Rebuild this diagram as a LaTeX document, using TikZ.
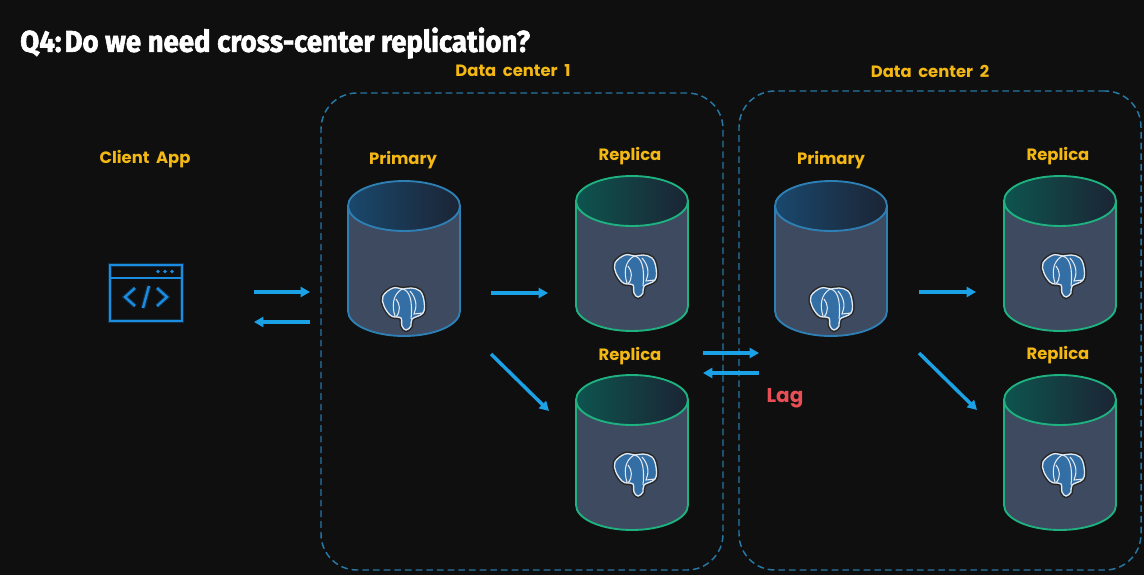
\documentclass[tikz,border=0pt]{standalone}
\usepackage{fontspec}
\usepackage{tikz}
\usetikzlibrary{arrows.meta,positioning,shapes.geometric}
\setmainfont[WordSpace=1.9]{Poppins}
\newfontfamily\titlefont[BoldFeatures={FakeBold=2.2}]{Fira Sans}
\definecolor{bgblack}{RGB}{15,15,15}
\definecolor{flowblue}{RGB}{27,161,230}
\definecolor{dcdash}{RGB}{38,120,165}
\definecolor{labelyellow}{RGB}{244,184,20}
\definecolor{lagred}{RGB}{232,78,84}
\definecolor{dbbody}{RGB}{62,74,96}
\definecolor{dbtopend}{RGB}{27,36,52}
\definecolor{priedge}{RGB}{46,128,180}
\definecolor{pritop}{RGB}{26,72,108}
\definecolor{repedge}{RGB}{30,178,128}
\definecolor{reptop}{RGB}{14,84,78}
\definecolor{pgblue}{RGB}{51,110,165}
\definecolor{iconblue}{RGB}{26,140,226}
\newcommand{\elephantpath}{plot[smooth cycle,tension=.65] coordinates {(-10,-21) (-20,-13) (-19,-3) (-13,6) (-8,8) (-2,9) (-1,17) (3,21) (8,17) (9,10) (20,4) (21,-8) (17,-18) (8,-21) (0,-20)}}
\begin{document}
\begin{tikzpicture}[
    x=.75pt, y=-.75pt,
    label/.style={text=labelyellow, font=\fontsize{12.3}{14}\selectfont\bfseries, inner sep=0pt},
    flow/.style={-{Triangle[length=7pt,width=7.5pt]}, line width=2.6pt, color=flowblue},
    dcbox/.style={rectangle, rounded corners=27pt, draw=dcdash, line width=1.1pt,
                  dash pattern=on 5pt off 3pt, inner sep=0pt},
    icon/.style={draw=iconblue, line width=1.6pt},
    iconglow/.style={draw=iconblue, opacity=.25, line width=3.4pt},
    pics/dbcyl/.style n args={2}{code={
      \fill[dbbody] (-56,0) -- (-56,105) arc[start angle=180,end angle=0,x radius=56,y radius=25] -- (56,0) -- cycle;
      \draw[#1, line width=1.4pt] (-56,0) -- (-56,105) arc[start angle=180,end angle=0,x radius=56,y radius=25] -- (56,0);
      \draw[#1, line width=1.4pt, left color=#2, right color=dbtopend] (0,0) ellipse[x radius=56,y radius=25];
    }},
    pics/pgsql/.style={code={
      \draw[black!85, line width=3.2pt, fill=black!85] \elephantpath;
      \draw[white!85!pgblue, line width=1pt, fill=pgblue] \elephantpath;
      \draw[white!85!pgblue, line width=.8pt] (-8,7) .. controls (-11,-2) and (-11,-14) .. (-1,-20)
        .. controls (6,-19) and (10,-10) .. (8,10)
        (-7,-10) .. controls (-3,-5) and (-2,2) .. (-7,8)
        (7,-18) .. controls (14,-10) and (14,-2) .. (11,5) -- (20,4);
    }}
  ]
    \fill[bgblack] (0,0) rectangle (1144,575);
    \useasboundingbox (0,0) rectangle (1144,575);

    \node[anchor=west, text=white, inner sep=0pt, xscale=.92, font=\titlefont\fontsize{22.5}{24}\selectfont\bfseries] (title) at (20,43) {Q4:\kern2.5pt Do we need cross-center replication?};

    \node[dcbox, minimum width=301.5pt, minimum height=357.75pt] (dc1) at (522,331.5) {};
    \node[dcbox, minimum width=301.5pt, minimum height=359.25pt] (dc2) at (940,330.5) {};
    \node[label] (dc1label) at (513,71) {Data center 1};
    \node[label] (dc2label) at (930,71) {Data center 2};

    \node[label] (clientlabel) at (145,159) {Client App};
    \node[label] (pri1label) at (403,160) {Primary};
    \node[label] (rep1label) at (630,156) {Replica};
    \node[label] (rep2label) at (630,356) {Replica};
    \node[label] (pri2label) at (831,160) {Primary};
    \node[label] (rep3label) at (1058,156) {Replica};
    \node[label] (rep4label) at (1058,355) {Replica};
    \node[text=lagred, inner sep=0pt, font=\fontsize{15}{17}\selectfont\bfseries] (lag) at (785,398) {Lag};

    % client window
    \draw[iconglow] (110,265) rectangle (182,321);
    \draw[icon] (110,265) rectangle (182,321);
    \draw[icon] (110,278) -- (182,278);
    \fill[iconblue] (158,271.5) circle (1.8) (165,271.5) circle (1.8) (172,271.5) circle (1.8);
    \draw[iconglow] (135,288) -- (125,297) -- (135,306) (157,288) -- (167,297) -- (157,306) (149,286) -- (143,308);
    \draw[icon, line width=1.8pt] (135,288) -- (125,297) -- (135,306);
    \draw[icon, line width=1.8pt] (157,288) -- (167,297) -- (157,306);
    \draw[icon, line width=1.8pt] (149,286) -- (143,308);

    % databases
    \pic at (404,206) {dbcyl={priedge}{pritop}};
    \pic at (632,201) {dbcyl={repedge}{reptop}};
    \pic at (632,400) {dbcyl={repedge}{reptop}};
    \pic at (831,206) {dbcyl={priedge}{pritop}};
    \pic at (1060,201) {dbcyl={repedge}{reptop}};
    \pic at (1060,400) {dbcyl={repedge}{reptop}};
    \pic at (403,309) {pgsql};
    \pic at (635,276) {pgsql};
    \pic at (635,475) {pgsql};
    \pic at (831,309) {pgsql};
    \pic at (1063,276) {pgsql};
    \pic at (1063,475) {pgsql};

    \coordinate (c1a) at (254,292);  \coordinate (c1b) at (310,292);
    \coordinate (c2a) at (310,322);  \coordinate (c2b) at (254,322);
    \coordinate (p1a) at (491,293);  \coordinate (p1b) at (548,293);
    \coordinate (p2a) at (491,354);  \coordinate (p2b) at (549,411);
    \coordinate (x1a) at (703,353);  \coordinate (x1b) at (759,353);
    \coordinate (x2a) at (759,373);  \coordinate (x2b) at (703,373);
    \coordinate (p3a) at (919,292);  \coordinate (p3b) at (976,292);
    \coordinate (p4a) at (919,353);  \coordinate (p4b) at (977,410);

    \draw[flow] (c1a) -- (c1b);
    \draw[flow] (c2a) -- (c2b);
    \draw[flow] (p1a) -- (p1b);
    \draw[flow] (p2a) -- (p2b);
    \draw[flow] (x1a) -- (x1b);
    \draw[flow] (x2a) -- (x2b);
    \draw[flow] (p3a) -- (p3b);
    \draw[flow] (p4a) -- (p4b);
  \end{tikzpicture}
\end{document}
